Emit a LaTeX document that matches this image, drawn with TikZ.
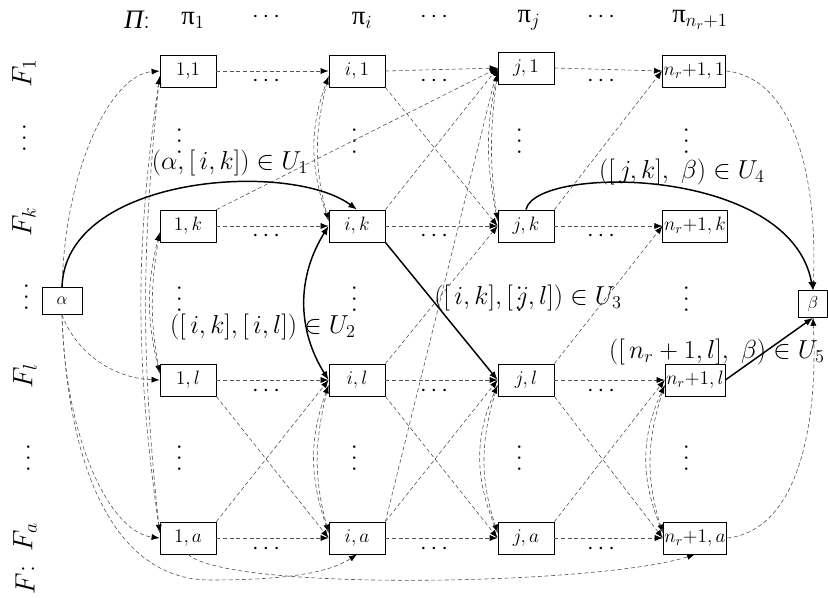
\documentclass[tikz,border=0pt]{standalone}
\usepackage{fix-cm}
\usepackage{amsmath}
\usepackage{fontspec}
\newfontfamily\grkfont{Liberation Serif}
\usetikzlibrary{arrows.meta}
\definecolor{EdgeGray}{HTML}{555555}

\begin{document}
\begin{tikzpicture}[x=0.75pt, y=0.75pt,
    cell/.style={rectangle, draw, line width=0.6pt, minimum width=42pt,
                 minimum height=24pt, inner sep=1pt, font=\fontsize{14.5}{17}\selectfont},
    term/.style={cell, minimum height=20pt, font=\fontsize{13}{15}\selectfont},
    dedge/.style={draw=EdgeGray, line width=0.45pt, dash pattern=on 3pt off 2pt,
                  -{Latex[length=6pt, width=4.5pt, black]}},
    uedge/.style={draw=black, line width=1.1pt, -{Latex[length=6.5pt, width=5pt]}},
    lab/.style={font=\fontsize{19.5}{23}\selectfont, inner sep=0pt},
    head/.style={font=\fontsize{20}{24}\selectfont, inner sep=0pt},
    dots/.style={font=\fontsize{18}{21}\selectfont, inner sep=0pt},
    vdots/.style={dots, rotate=90},
    side/.style={font=\fontsize{21}{25}\selectfont, inner sep=0pt, rotate=90}]
\useasboundingbox (0,0) rectangle (828,-597);

% header row
\node[head] (hPi) at (137,-20) {{\grkfont\itshape Π}:};
\node[head] (hp1) at (193,-20) {{\grkfont π}$_1$};
\node[dots] (hd1) at (268,-17) {$\cdots$};
\node[head] (hpi) at (362,-20) {{\grkfont π}$_i$};
\node[dots] (hd2) at (436,-17) {$\cdots$};
\node[head] (hpj) at (529,-20) {{\grkfont π}$_j$};
\node[dots] (hd3) at (603,-17) {$\cdots$};
\node[head] (hpn) at (700,-20) {{\grkfont π}$_{n_r+1}$};

% factories
\node[side] (f1) at (24,-73) {$F_1$};
\node[vdots] (fd1) at (25,-136) {$\cdots$};
\node[side] (fk) at (24,-222) {$F_k$};
\node[vdots] (fd2) at (27,-295) {$\cdots$};
\node[side] (fl) at (25,-376) {$F_l$};
\node[vdots] (fd3) at (29,-456) {$\cdots$};
\node[side] (fa) at (25,-537) {$F_a$};
\node[side] (ff) at (25,-580) {$F$:};

% cells
\node[cell] (n11) at (188,-71) {1,1};
\node[cell] (ni1) at (357,-71) {$i,1$};
\node[cell] (nj1) at (526,-68) {$j,1$};
\node[cell] (nn1) at (694,-71) {$n_r{+}1,1$};
\node[cell] (n1k) at (188,-226) {$1,k$};
\node[cell] (nik) at (357,-226) {$i,k$};
\node[cell] (njk) at (526,-226) {$j,k$};
\node[cell] (nnk) at (695,-226) {$n_r{+}1,k$};
\node[cell] (n1l) at (188,-380) {$1,l$};
\node[cell] (nil) at (357,-380) {$i,l$};
\node[cell] (njl) at (526,-380) {$j,l$};
\node[cell] (nnl) at (695,-380) {$n_r{+}1,l$};
\node[cell] (n1a) at (188,-538) {$1,a$};
\node[cell] (nia) at (357,-538) {$i,a$};
\node[cell] (nja) at (526,-538) {$j,a$};
\node[cell] (nna) at (695,-538) {$n_r{+}1,a$};
\node[term, minimum width=30pt] (alpha) at (62,-301) {$\alpha$};
\node[term, minimum width=22pt] (beta) at (813,-304) {$\beta$};

% dots between cells
\node[dots] (rd11) at (268,-81) {$\cdots$};
\node[dots] (rd12) at (436,-81) {$\cdots$};
\node[dots] (rd13) at (603,-81) {$\cdots$};
\node[dots] (rd21) at (268,-236) {$\cdots$};
\node[dots] (rd22) at (436,-236) {$\cdots$};
\node[dots] (rd23) at (603,-236) {$\cdots$};
\node[dots] (rd31) at (268,-391) {$\cdots$};
\node[dots] (rd32) at (436,-391) {$\cdots$};
\node[dots] (rd33) at (603,-391) {$\cdots$};
\node[dots] (rd41) at (268,-549) {$\cdots$};
\node[dots] (rd42) at (436,-549) {$\cdots$};
\node[dots] (rd43) at (603,-549) {$\cdots$};
\node[vdots] (vd11) at (180,-139) {$\cdots$};
\node[vdots] (vd12) at (355,-139) {$\cdots$};
\node[vdots] (vd13) at (520,-139) {$\cdots$};
\node[vdots] (vd14) at (687,-139) {$\cdots$};
\node[vdots] (vd21) at (180,-297) {$\cdots$};
\node[vdots] (vd22) at (355,-297) {$\cdots$};
\node[vdots] (vd23) at (520,-297) {$\cdots$};
\node[vdots] (vd24) at (687,-297) {$\cdots$};
\node[vdots] (vd31) at (180,-456) {$\cdots$};
\node[vdots] (vd32) at (355,-456) {$\cdots$};
\node[vdots] (vd33) at (520,-456) {$\cdots$};
\node[vdots] (vd34) at (687,-456) {$\cdots$};

% arcs along the rows
\draw[dedge] (n11.east) -- (ni1.west);
\draw[dedge] (ni1.east) -- (nj1.west);
\draw[dedge] (nj1.east) -- (nn1.west);
\draw[dedge] (n1k.east) -- (nik.west);
\draw[dedge] (nik.east) -- (njk.west);
\draw[dedge] (njk.east) -- (nnk.west);
\draw[dedge] (n1l.east) -- (nil.west);
\draw[dedge] (nil.east) -- (njl.west);
\draw[dedge] (njl.east) -- (nnl.west);
\draw[dedge] (n1a.east) -- (nia.west);
\draw[dedge] (nia.east) -- (nja.west);
\draw[dedge] (nja.east) -- (nna.west);

% arcs across the rows
\draw[dedge] (n1k.north east) -- (nj1.west);
\draw[dedge] (n1l.south east) -- (nia.west);
\draw[dedge] (n1a.north east) -- (nil.west);
\draw[dedge] (ni1.south east) -- (njk.west);
\draw[dedge] (nik.north east) -- (nj1.west);
\draw[dedge] (nil.north east) -- (njk.west);
\draw[dedge] (nil.south east) -- (nja.west);
\draw[dedge] (nia.north east) -- (njl.west);
\draw[dedge] (nia.north east) -- (nj1.west);
\draw[dedge] (njk.north east) -- (nn1.west);
\draw[dedge] (njl.north east) -- (nnk.west);
\draw[dedge] (njl.south east) -- (nna.west);
\draw[dedge] (nja.north east) -- (nnl.west);

% arcs inside a column
\draw[dedge] ([yshift=-4pt]n11.west) to[bend right=6] ([yshift=4pt]n1a.west);
\draw[dedge] ([yshift=4pt]n1a.west) to[bend left=8] ([yshift=-4pt]n11.west);
\draw[dedge] ([yshift=-5pt]n1k.west) to[bend right=10] ([yshift=5pt]n1l.west);
\draw[dedge] ([yshift=5pt]n1l.west) to[bend left=14] ([yshift=-5pt]n1k.west);
\draw[dedge] ([yshift=-4pt]ni1.west) to[bend right=15] ([yshift=4pt]nik.west);
\draw[dedge] ([yshift=4pt]nik.west) to[bend left=20] ([yshift=-4pt]ni1.west);
\draw[dedge] ([yshift=-4pt]nil.west) to[bend right=15] ([yshift=4pt]nia.west);
\draw[dedge] ([yshift=4pt]nia.west) to[bend left=20] ([yshift=-4pt]nil.west);
\draw[dedge] ([yshift=-4pt]nj1.west) to[bend right=8] ([yshift=4pt]njk.west);
\draw[dedge] ([yshift=4pt]njk.west) to[bend left=12] ([yshift=-4pt]nj1.west);
\draw[dedge] ([yshift=-4pt]njl.west) to[bend right=18] ([yshift=4pt]nja.west);
\draw[dedge] ([yshift=4pt]nja.west) to[bend left=24] ([yshift=-4pt]njl.west);
\draw[dedge] ([yshift=-4pt]nnl.west) to[bend right=18] ([yshift=4pt]nna.west);
\draw[dedge] ([yshift=4pt]nna.west) to[bend left=24] ([yshift=-4pt]nnl.west);

% arcs from alpha and into beta
\draw[dedge] (alpha.north) .. controls (65,-170) and (110,-75) .. (n11.west);
\draw[dedge] (alpha.south) .. controls (75,-350) and (110,-378) .. (n1l.west);
\draw[dedge] (alpha.south) .. controls (65,-440) and (110,-532) .. (n1a.west);
\draw[dedge] (alpha.south) .. controls (68,-480) and (120,-580) .. (210,-580)
    .. controls (290,-580) and (330,-572) .. (nia.south);
\draw[dedge] (n1a.south) .. controls (230,-592) and (600,-585) .. (nna.south);
\draw[dedge] (nn1.east) .. controls (795,-78) and (818,-180) .. (beta.north);
\draw[dedge] (nna.east) .. controls (800,-530) and (818,-420) .. (beta.south);

% the marked arcs
\draw[uedge] (alpha.north) .. controls (65,-175) and (290,-160) .. (nik.north);
\draw[uedge, {Latex[length=6.5pt, width=5pt]}-{Latex[length=6.5pt, width=5pt]}]
    (nik.west) to[bend right=32] (nil.west);
\draw[uedge] (nik.south east) -- (njl.west);
\draw[uedge] (njk.north) .. controls (535,-165) and (790,-165) .. (beta.north);
\draw[uedge] (nnl.east) -- (beta.south);

% labels of the marked arcs
\node[lab] (lU1) at (230,-163) {$(\alpha,[\,i,k])\in U_1$};
\node[lab] (lU2) at (263,-327) {$([\,i,k],[\,i,l])\in U_2$};
\node[lab] (lU3) at (528,-298) {$([\,i,k],[\,j,l])\in U_3$};
\node[lab] (lU4) at (682,-172) {$([\,j,k],\ \beta)\in U_4$};
\node[lab] (lU5) at (717,-352) {$([\,n_r+1,l],\ \beta)\in U_5$};
\end{tikzpicture}
\end{document}
